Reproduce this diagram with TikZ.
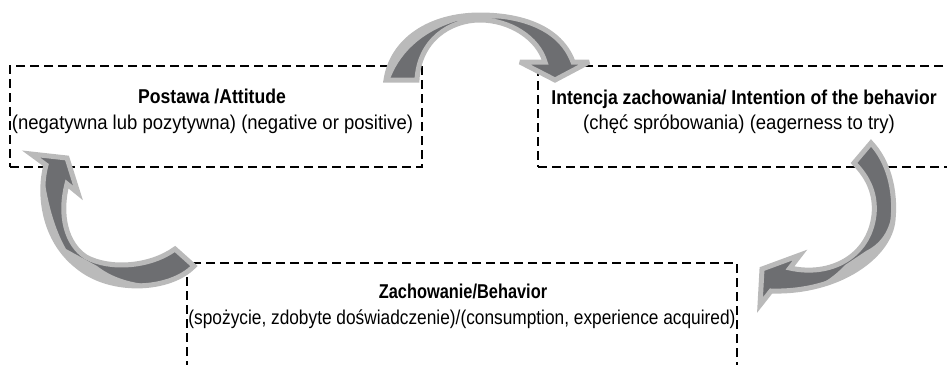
\documentclass[tikz,border=0pt]{standalone}
\usepackage{fontspec}
\setmainfont{Liberation Sans}[FakeStretch=0.925,BoldFeatures={FakeStretch=0.88}]
\usepackage{xcolor}
\definecolor{arrowdark}{RGB}{109,110,113}
\definecolor{arrowlight}{RGB}{186,186,186}

% body of the three bent arrows
\newcommand{\toparrowpath}{(386,80) -- (417,80)
        .. controls (419,40) and (450,20) .. (480,20)
        .. controls (510,20) and (538,38) .. (545,62)
        -- (520,62) -- (555,80) -- (589,62) -- (573,62)
        .. controls (560,27) and (520,15) .. (480,15)
        .. controls (430,15) and (392,40) .. cycle}
\newcommand{\rightarrowpath}{(854,163) -- (871,143)
        .. controls (888,161) and (896,190) .. (893,220)
        .. controls (890,255) and (840,293) .. (771,291)
        -- (760,305) -- (762,269) -- (800,255) -- (790,268)
        .. controls (830,277) and (869,257) .. (874,215)
        .. controls (876,195) and (869,178) .. cycle}
\newcommand{\leftarrowpath}{(175,249) -- (194,266)
        .. controls (170,291) and (110,294) .. (77,266)
        .. controls (44,240) and (38,195) .. (46,165)
        -- (31,154) -- (67,158) -- (78,193) -- (67,184)
        .. controls (59,215) and (66,244) .. (86,257)
        .. controls (110,270) and (150,267) .. cycle}

\begin{document}
\begin{tikzpicture}[x=1pt,y=-1pt,
        dashbox/.style={draw,line width=2pt,dash pattern=on 9pt off 5pt,inner sep=0pt},
        headtext/.style={font=\fontsize{20}{25}\selectfont\bfseries,anchor=base,inner sep=0pt},
        subtext/.style={font=\fontsize{20}{25}\selectfont,anchor=base,inner sep=0pt},
        arrowface/.style={fill=arrowdark},
        arrowback/.style={fill=arrowlight},
        arrowrim/.style={draw=arrowlight,line width=5pt,line join=miter,miter limit=4}]
        \useasboundingbox (0,0) rectangle (947,364);
        \clip (0,0) rectangle (947,364);
        % boxes
        \node[dashbox,minimum width=412pt,minimum height=101pt] (postawa) at (216,116.5) {};
        \node[dashbox,minimum width=411pt,minimum height=101pt] (intencja) at (743.5,116.5) {};
        \node[dashbox,minimum width=550pt,minimum height=104pt] (zachowanie) at (462,315) {};
        % texts
        \node[headtext] (postawaT) at (212,103) {Postawa /Attitude};
        \node[subtext] (postawaS) at (212.5,129) {(negatywna lub pozytywna) (negative or positive)};
        \node[headtext] (intencjaT) at (744,104) {Intencja zachowania/ Intention of the behavior};
        \node[subtext] (intencjaS) at (739,129) {(chęć spróbowania) (eagerness to try)};
        \node[headtext] (zachowanieT) at (463,298) {\scalebox{0.93}[1]{Zachowanie/Behavior}};
        \node[subtext] (zachowanieS) at (462,324) {\scalebox{0.935}[1]{(spożycie, zdobyte doświadczenie)/(consumption, experience acquired)}};
        % top arrow: postawa -> intencja
        \fill[arrowface] \toparrowpath;
        \begin{scope}
            \clip \toparrowpath;
            \fill[arrowback] (380,95) -- (389,82) .. controls (398,55) and (420,32) .. (457,21)
                -- (503,18) -- (510,0) -- (370,0) -- cycle;
        \end{scope}
        \draw[arrowrim] \toparrowpath;
        % right arrow: intencja -> zachowanie
        \fill[arrowface] \rightarrowpath;
        \begin{scope}
            \clip \rightarrowpath;
            \fill[arrowback] (910,210) -- (892,214) .. controls (888,235) and (878,245) .. (866,251)
                -- (845,265) .. controls (830,281) and (815,289) .. (790,294)
                -- (780,320) -- (910,320) -- cycle;
        \end{scope}
        \draw[arrowrim] \rightarrowpath;
        % left arrow: zachowanie -> postawa
        \fill[arrowface] \leftarrowpath;
        \begin{scope}
            \clip \leftarrowpath;
            \fill[arrowback] (30,160) -- (43,168) .. controls (45,190) and (52,225) .. (66,249)
                -- (97,266) .. controls (115,280) and (140,287) .. (180,285)
                -- (200,300) -- (20,300) -- cycle;
        \end{scope}
        \draw[arrowrim] \leftarrowpath;
\end{tikzpicture}
\end{document}
